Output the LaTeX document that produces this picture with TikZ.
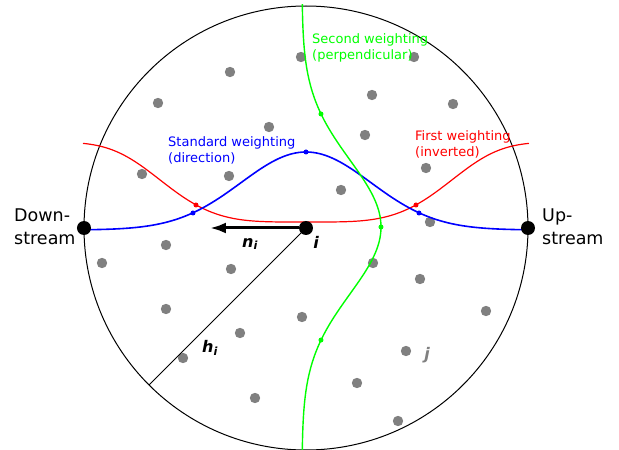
\documentclass[tikz,border=0pt]{standalone}
\usepackage{fontspec}
\setmainfont{DejaVu Sans}
\usepackage{tikz}
\usetikzlibrary{arrows.meta}

\begin{document}
\begin{tikzpicture}[>={Latex[length=16pt,width=11pt]}, x=10pt, y=10pt,
    pt/.style={circle, fill=gray, inner sep=0pt, minimum size=10.4pt},
    bigdot/.style={circle, fill=black, inner sep=0pt, minimum size=14pt},
    cdot/.style={circle, fill=#1, inner sep=0pt, minimum size=5pt},
    note/.style={inner sep=0pt, align=left, anchor=north west, font=\fontsize{13}{16.4}\selectfont},
    side/.style={inner sep=0pt, align=left, anchor=north west, font=\fontsize{17.5}{22.5}\selectfont},
    lbl/.style={inner sep=0pt, font=\fontsize{16}{19}\selectfont\bfseries\itshape}]
    \useasboundingbox (-30.6,-22.2) rectangle (31.3,22.8);

    % Vùng lân cận
    \draw[line width=1pt] (0,0) circle (22.2);

    % Các điểm j
    \foreach \x/\y [count=\k] in {-7.6/15.6, -14.8/12.5, -3.7/10.1, -16.4/5.4, -7.7/5.2,
        -0.5/17.1, 10.8/17.1, 6.6/13.3, 14.7/12.4, 5.9/9.3, 12.0/6.0, 3.5/3.8, 12.4/0.6,
        -20.4/-3.5, -14.0/-1.7, -7.5/-4.1, -14.0/-8.1, -6.6/-10.5, -12.3/-13.0, -5.1/-17.0,
        -0.4/-8.9, 6.7/-3.5, 11.4/-5.1, 18.0/-8.3, 10.0/-12.3, 5.1/-15.5, 9.2/-19.3} {
        \node[pt] (p\k) at (\x,\y) {};
    }

    % Các đường trọng số
    \draw[red, line width=1.2pt, domain=-22.3:22.3, samples=150]
        plot (\x, {0.6+8*(1-exp(-((\x/15.7)^2)^2))});
    \draw[blue, line width=1.6pt, domain=-22.2:22.2, samples=150]
        plot (\x, {-0.2+7.8*exp(-\x*\x/84.5)});
    \draw[green, line width=1.4pt, domain=-22.2:22.4, samples=150]
        plot ({-0.4+7.9*exp(-(\x-0.1)*(\x-0.1)/89.8)}, \x);

    \node[cdot=red] (r1) at (-11.0,2.3) {};
    \node[cdot=red] (r2) at (11.0,2.3) {};
    \node[cdot=blue] (b1) at (-11.3,1.5) {};
    \node[cdot=blue] (b2) at (0,7.6) {};
    \node[cdot=blue] (b3) at (11.3,1.5) {};
    \node[cdot=green] (g1) at (1.5,11.4) {};
    \node[cdot=green] (g2) at (7.5,0.1) {};
    \node[cdot=green] (g3) at (1.5,-11.2) {};

    % Điểm i, thượng lưu và hạ lưu
    \node[bigdot] (i) at (0,0) {};
    \node[bigdot] (down) at (-22.2,0) {};
    \node[bigdot] (up) at (22.2,0) {};
    \coordinate (ni) at (-9.6,0);
    \coordinate (rim) at (225:22.2);
    \draw[->, line width=3pt] (i) -- (ni);
    \draw[line width=1pt] (i.center) -- (rim);

    \node[lbl] (nlab) at (-5.6,-1.6) {n\textsubscript{i}};
    \node[lbl] (ilab) at (1.0,-1.4) {i};
    \node[lbl] (hlab) at (-9.6,-12.0) {h\textsubscript{i}};
    \node[lbl, gray] (jlab) at (12.1,-12.7) {j};

    \node[note, blue] (std) at (-13.8,9.15) {Standard weighting\\(direction)};
    \node[note, green] (second) at (0.6,19.5) {Second weighting\\(perpendicular)};
    \node[note, red] (first) at (10.9,9.8) {First weighting\\(inverted)};
    \node[side] (downtxt) at (-29.2,1.9) {Down-\\stream};
    \node[side] (uptxt) at (23.6,1.9) {Up-\\stream};
\end{tikzpicture}
\end{document}
